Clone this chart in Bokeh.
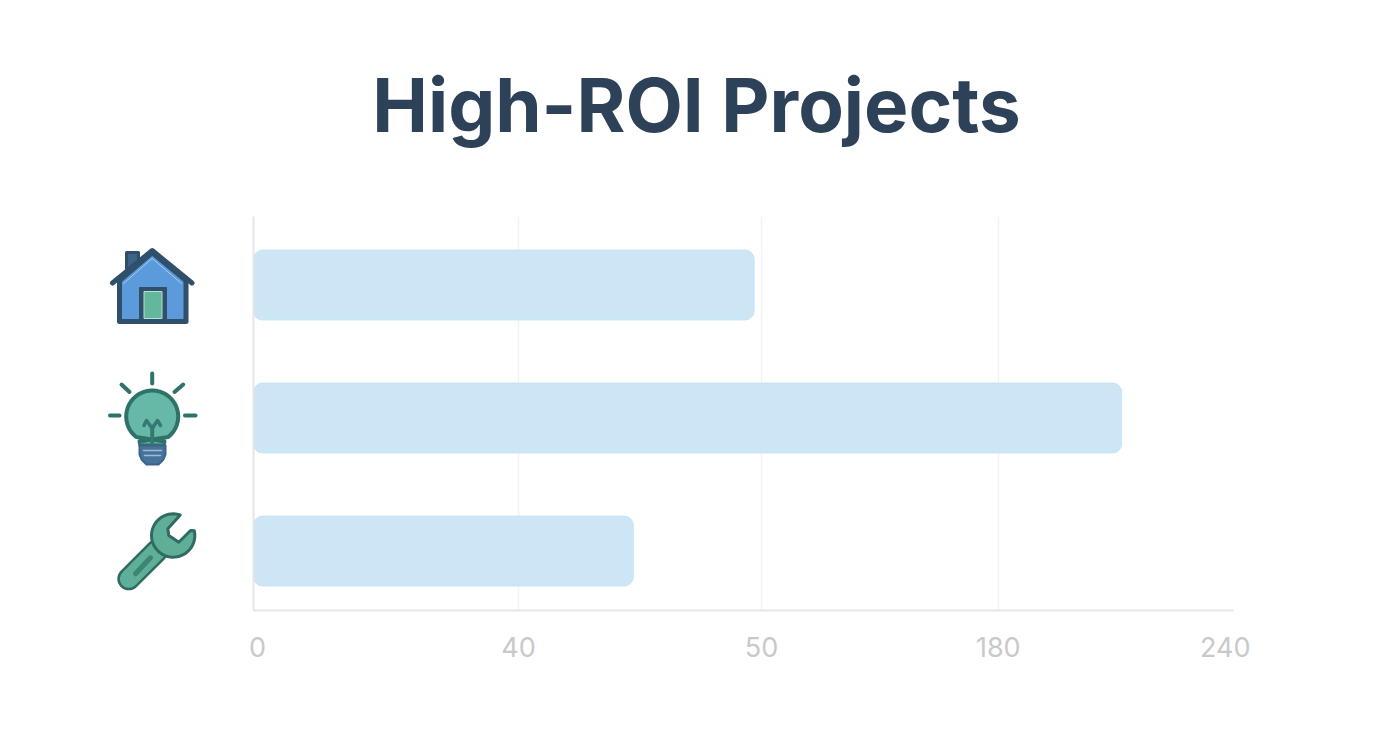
import numpy as np
from bokeh.embed import file_html
from bokeh.models import FixedTicker, Range1d
from bokeh.plotting import figure
from bokeh.resources import INLINE

# Chart data
project_names = ["Home", "Ideas", "Tools"]
project_rows = [0, 1, 2]
project_values = [122.6, 212.6, 93.0]
tick_labels = ["0", "40", "50", "180", "240"]
tick_label_positions = [1, 64.9, 124.4, 182.4, 238]
grid_positions = [64.9, 124.4, 182.4]
title_text = "High-ROI Projects"

p = figure(
    width=1376, height=736, output_backend="svg", toolbar_location=None,
    x_range=Range1d(0, 240), y_range=Range1d(2.447, -0.515),
    min_border_left=253, min_border_right=143, min_border_top=216, min_border_bottom=126,
    background_fill_color="white", border_fill_color="white",
)
p.outline_line_color = None
p.ygrid.visible = False
p.xgrid.ticker = FixedTicker(ticks=grid_positions)
p.xgrid.grid_line_color = "#f3f3f3"
p.xgrid.grid_line_width = 1.5

p.xaxis.ticker = FixedTicker(ticks=tick_label_positions)
p.xaxis.major_label_overrides = dict(zip(tick_label_positions, tick_labels))
p.xaxis.major_tick_line_color = None
p.xaxis.minor_tick_line_color = None
p.xaxis.axis_line_color = "#e6e6e6"
p.xaxis.axis_line_width = 2
p.xaxis.major_label_text_font = "Inter"
p.xaxis.major_label_text_font_size = "27px"
p.xaxis.major_label_text_color = "#c9c9c9"
p.xaxis.major_label_standoff = 20

p.yaxis.ticker = FixedTicker(ticks=[])
p.yaxis.major_tick_line_color = None
p.yaxis.minor_tick_line_color = None
p.yaxis.axis_line_color = "#e6e6e6"
p.yaxis.axis_line_width = 2

p.hbar(
    y=project_rows, left=0, right=project_values, height=0.525,
    fill_color="#cde6f5", line_color="#c6e3f5", line_width=1, border_radius=9,
)

# Page-pixel ranges for the title and the decorative icons
p.extra_x_ranges = {"px": Range1d(253, 1233)}
p.extra_y_ranges = {"py": Range1d(610, 216)}
PX = dict(x_range_name="px", y_range_name="py", level="overlay")

p.text(x=[696], y=[104], text=[title_text], text_font=["Inter"], text_font_style="bold",
       text_font_size="74.5px", text_color="#2d4159", text_align="center",
       text_baseline="alphabetic", **PX)


def line(xs, ys, color, width):
    p.line(xs, ys, line_color=color, line_width=width, line_cap="round", line_join="round", **PX)


def poly(xs, ys, fill, stroke, width):
    p.patch(xs, ys, fill_color=fill, line_color=stroke, line_width=width, line_join="round", **PX)


# House icon
DARK = "#2f4f6b"
poly([126, 138, 138, 126], [252, 252, 268, 268], "#3c6285", DARK, 3)
poly([119, 151.7, 185.5, 185.5, 119], [280, 252, 280, 321, 321], "#5b9bdc", DARK, 5)
line([112, 151.7, 191.5], [282.5, 250, 282.5], DARK, 5)
line([123, 151.7, 181], [283, 258, 283], "#a6cdf0", 1)
poly([139, 166, 166, 139], [287, 287, 320, 320], DARK, DARK, 1)
poly([143.5, 161.5, 161.5, 143.5], [291, 291, 318, 318], "#62b79c", "#b5e0d2", 1)

# Light-bulb icon
TEAL = "#2f7269"
line([151.7, 151.7], [373, 383], TEAL, 4)
line([121, 129], [384, 391.5], TEAL, 4)
line([182.7, 174], [384, 391.5], TEAL, 4)
line([109.5, 119], [415, 415], TEAL, 4)
line([184.5, 195], [415, 415], TEAL, 4)
bulb_angles = np.radians(np.linspace(-52, 232, 60))
bulb_x = list(151.7 + 26 * np.cos(bulb_angles)) + [164, 163, 140, 139]
bulb_y = list(416 - 26 * np.sin(bulb_angles)) + [441, 445, 445, 441]
poly(bulb_x, bulb_y, "#66b9a6", TEAL, 4)
line([151.7, 151.7], [445, 426], "#357a72", 4)
line([143.5, 146, 151.7, 157, 160], [425, 420, 428, 420, 425], "#357a72", 3.5)
poly([139, 165, 165, 163, 158, 146, 141, 139], [445, 445, 454, 459, 464, 464, 459, 454],
     "#47739b", "#3d6488", 2)
line([143, 161], [450, 450], "#9bbcd3", 1.5)
line([144, 160], [455, 455], "#9bbcd3", 1.5)

# Wrench icon
WD = "#2f6b62"
line([128.3, 156.7], [578.3, 550], WD, 23)
line([128.3, 156.7], [578.3, 550], "#5fae98", 18)
line([135, 150], [573.3, 557.3], "#3c8474", 5)
head_angles = np.radians(np.linspace(71, 373, 50))
head_x = list(90 + (248 + 65 * np.cos(head_angles)) / 3) + [190, 178.3, 168.3, 167.3, 179.3]
head_y = list(500 + (105 - 65 * np.sin(head_angles)) / 3) + [530, 541.7, 535, 528.3, 515]
poly(head_x, head_y, "#5fae98", WD, 3)

open("out.html", "w").write(file_html(p, INLINE))
